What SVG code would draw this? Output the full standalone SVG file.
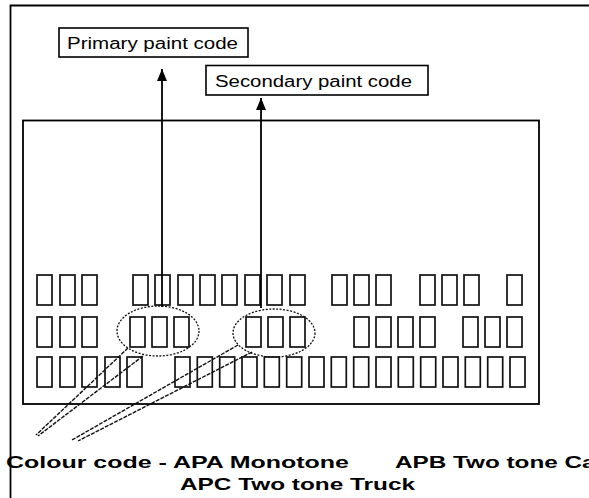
<svg xmlns="http://www.w3.org/2000/svg" width="589" height="498" viewBox="0 0 589 498">
<style>
.frame{fill:none;stroke:#000;stroke-width:1.8}
.b{fill:none;stroke:#111;stroke-width:1.7}
.lbl{fill:#fff;stroke:#000;stroke-width:1.6}
.t{font-family:"Liberation Sans",Arial,sans-serif;font-size:16px;fill:#000}
.bt{font-family:"Liberation Sans",Arial,sans-serif;font-size:17px;font-weight:bold;fill:#000}
.ell{fill:none;stroke:#111;stroke-width:1.3;stroke-dasharray:2 1.5}
.lead{fill:none;stroke:#111;stroke-width:1.4;stroke-dasharray:4 1.2}
.arr{fill:none;stroke:#000;stroke-width:1.8}
</style>
<defs>
<marker id="ah" viewBox="0 0 12 10" refX="12" refY="5" markerWidth="12" markerHeight="10" markerUnits="userSpaceOnUse" orient="auto">
<path d="M0,0 L12,5 L0,10 Z" fill="#000"/>
</marker>
</defs>
<rect width="589" height="498" fill="#fff"/>
<path class="frame" d="M589,5.5 H10.5 V498"/>

<g id="panel">
<rect class="frame" x="23" y="120.5" width="516" height="283.5"/>
<g id="row1">
<rect class="b" x="37" y="275" width="15" height="30"/><rect class="b" x="60" y="275" width="15" height="30"/><rect class="b" x="82" y="275" width="15" height="30"/>
<rect class="b" x="133" y="275" width="15" height="30"/><rect class="b" x="155" y="275" width="15" height="30"/><rect class="b" x="178" y="275" width="15" height="30"/><rect class="b" x="200" y="275" width="15" height="30"/><rect class="b" x="222" y="275" width="15" height="30"/><rect class="b" x="245" y="275" width="15" height="30"/><rect class="b" x="267" y="275" width="15" height="30"/><rect class="b" x="290" y="275" width="15" height="30"/>
<rect class="b" x="332" y="275" width="15" height="30"/><rect class="b" x="354" y="275" width="15" height="30"/><rect class="b" x="376" y="275" width="15" height="30"/>
<rect class="b" x="420" y="275" width="15" height="30"/><rect class="b" x="442" y="275" width="15" height="30"/><rect class="b" x="464" y="275" width="15" height="30"/>
<rect class="b" x="507" y="275" width="15" height="30"/>
</g>
<g id="row2">
<rect class="b" x="37" y="317" width="15" height="30"/><rect class="b" x="60" y="317" width="15" height="30"/><rect class="b" x="82" y="317" width="15" height="30"/>
<rect class="b" x="130" y="317" width="15" height="30"/><rect class="b" x="152" y="317" width="15" height="30"/><rect class="b" x="174" y="317" width="15" height="30"/>
<rect class="b" x="246" y="317" width="15" height="30"/><rect class="b" x="268" y="317" width="15" height="30"/><rect class="b" x="290" y="317" width="15" height="30"/>
<rect class="b" x="354" y="317" width="15" height="30"/><rect class="b" x="376" y="317" width="15" height="30"/><rect class="b" x="398" y="317" width="15" height="30"/><rect class="b" x="420" y="317" width="15" height="30"/>
<rect class="b" x="463" y="317" width="15" height="30"/><rect class="b" x="485" y="317" width="15" height="30"/><rect class="b" x="507" y="317" width="15" height="30"/>
</g>
<g id="row3">
<rect class="b" x="37" y="357" width="15" height="30"/><rect class="b" x="60" y="357" width="15" height="30"/><rect class="b" x="82" y="357" width="15" height="30"/><rect class="b" x="105" y="357" width="15" height="30"/><rect class="b" x="127" y="357" width="15" height="30"/>
<rect class="b" x="175" y="357" width="15" height="30"/><rect class="b" x="197.3" y="357" width="15" height="30"/><rect class="b" x="219.7" y="357" width="15" height="30"/><rect class="b" x="242" y="357" width="15" height="30"/><rect class="b" x="264.3" y="357" width="15" height="30"/><rect class="b" x="286.7" y="357" width="15" height="30"/><rect class="b" x="309" y="357" width="15" height="30"/><rect class="b" x="331.3" y="357" width="15" height="30"/><rect class="b" x="353.7" y="357" width="15" height="30"/><rect class="b" x="376" y="357" width="15" height="30"/><rect class="b" x="398.3" y="357" width="15" height="30"/><rect class="b" x="420.7" y="357" width="15" height="30"/><rect class="b" x="443" y="357" width="15" height="30"/><rect class="b" x="465.3" y="357" width="15" height="30"/><rect class="b" x="487.7" y="357" width="15" height="30"/><rect class="b" x="510" y="357" width="15" height="30"/>
</g>
</g>

<g id="primary-label">
<rect class="lbl" x="59" y="28" width="189" height="29"/>
<text class="t" x="67" y="49" textLength="171" lengthAdjust="spacingAndGlyphs">Primary paint code</text>
</g>
<g id="secondary-label">
<rect class="lbl" x="206" y="65.5" width="222" height="29.5"/>
<text class="t" x="215" y="87" textLength="197" lengthAdjust="spacingAndGlyphs">Secondary paint code</text>
</g>

<g id="ellipse-primary"><ellipse class="ell" cx="158" cy="331" rx="41" ry="25"/></g>
<g id="ellipse-secondary"><ellipse class="ell" cx="274" cy="333" rx="41" ry="24"/></g>

<g id="colour-code-label">
<text class="bt" x="6" y="468" textLength="343" lengthAdjust="spacingAndGlyphs">Colour code - APA Monotone</text>
<text class="bt" x="395" y="468" textLength="210" lengthAdjust="spacingAndGlyphs">APB Two tone Car</text>
<text class="bt" x="180" y="490" textLength="235" lengthAdjust="spacingAndGlyphs">APC Two tone Truck</text>
</g>

<g id="connectors">
<line class="arr" x1="162" y1="307" x2="162" y2="69" marker-end="url(#ah)"/>
<line class="arr" x1="261" y1="308" x2="261" y2="98" marker-end="url(#ah)"/>
<line class="lead" x1="128" y1="348" x2="36" y2="435"/>
<line class="lead" x1="143" y1="356" x2="38" y2="436"/>
<line class="lead" x1="238" y1="345" x2="72" y2="440"/>
<line class="lead" x1="252" y1="352" x2="78" y2="441"/>
</g>
</svg>
